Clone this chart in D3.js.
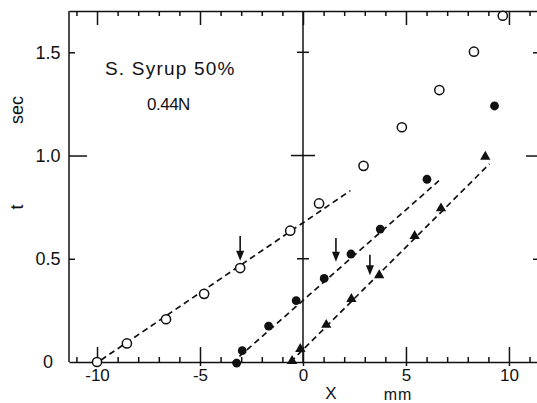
<!DOCTYPE html>
<html>
<head>
<meta charset="utf-8">
<script src="https://cdn.jsdelivr.net/npm/d3@7"></script>
<style>
  body { margin: 0; background: #fff; }
  svg { display: block; font-family: "Liberation Sans", Arial, sans-serif; }
  .tick text { font-size: 18px; fill: #111; }
</style>
</head>
<body>
<div id="chart"></div>
<script>
// open circles
const openX = [-10, -8.55, -6.65, -4.8, -3.05, -0.62, 0.78, 2.94, 4.8, 6.62, 8.3, 9.7]
const openT = [0, 0.09, 0.207, 0.33, 0.455, 0.636, 0.768, 0.95, 1.137, 1.317, 1.503, 1.677]
// filled circles
const fillX = [-3.22, -2.95, -1.67, -0.33, 1.03, 2.33, 3.75, 6.02, 9.3]
const fillT = [-0.005, 0.055, 0.174, 0.297, 0.405, 0.523, 0.644, 0.885, 1.24]
// triangles
const triX = [-0.53, -0.13, 1.13, 2.35, 3.7, 5.42, 6.7, 8.85]
const triT = [0.005, 0.063, 0.18, 0.305, 0.42, 0.61, 0.744, 0.994]

// dashed fit lines [x0, t0, x1, t1]
const fitOpen = [-9.8, 0.01, 2.3, 0.83]
const fitFill = [-3.45, -0.005, 6.6, 0.878]
const fitTri = [-0.6, 0.0, 9.06, 0.96]

// arrows
const arrowX = [-3.05, 1.6, 3.25]
const arrowTop = [0.61, 0.60, 0.52]
const arrowTip = [0.49, 0.485, 0.42]

const xMajor = [-10, -5, 0, 5, 10]
const xMinor = d3.range(-11, 12).filter(d => d % 5 != 0)
const yLabels = [0, 0.5, 1.0, 1.5]

const width = 537, height = 403
const margin = { top: 11, right: -1, bottom: 41, left: 69 }

const svg = d3.select("#chart").append("svg")
  .attr("width", width).attr("height", height)

const x = d3.scaleLinear().domain([-11.36, 11.41]).range([margin.left, width - margin.right])
const y = d3.scaleLinear().domain([0, 1.70]).range([height - margin.bottom, margin.top])

const ink = "#111"

function styleAxis(g) {
  g.selectAll("path,line").attr("stroke", ink).attr("stroke-width", 1.5)
}

// bottom
svg.append("g").attr("transform", `translate(0,${y(0)})`)
  .call(d3.axisBottom(x).tickValues(xMinor).tickSize(-5).tickSizeOuter(0).tickFormat(""))
  .call(styleAxis)
const bx = svg.append("g").attr("transform", `translate(0,${y(0)})`)
  .call(d3.axisBottom(x).tickValues(xMajor).tickSize(0).tickSizeOuter(0).tickPadding(7).tickFormat(d => d))
  .call(styleAxis)
bx.select(".domain").remove()
bx.selectAll(".tick line").attr("y1", 4).attr("y2", -15)
bx.selectAll(".tick text").attr("dy", "0.7em").style("font-size", "17px")

// top
svg.append("g").attr("transform", `translate(0,${y.range()[1]})`)
  .call(d3.axisTop(x).tickValues(xMinor).tickSize(-5).tickSizeOuter(0).tickFormat(""))
  .call(styleAxis)
svg.append("g").attr("transform", `translate(0,${y.range()[1]})`)
  .call(d3.axisTop(x).tickValues(xMajor).tickSize(-14).tickSizeOuter(0).tickFormat(""))
  .call(styleAxis).select(".domain").remove()

// left
const ly = svg.append("g").attr("transform", `translate(${x.range()[0]},0)`)
  .call(d3.axisLeft(y).tickValues(yLabels).tickSize(-6).tickSizeOuter(0)
    .tickFormat(d => d == 0 ? "0" : d3.format(".1f")(d)))
  .call(styleAxis)
ly.select(".domain").attr("d", `M0,${y.range()[0]}V${y.range()[1]}`)
ly.selectAll(".tick line").attr("x2", d => d == 1 ? 18 : d == 0 ? 0 : 6)
ly.selectAll(".tick text").attr("x", -21).attr("text-anchor", "middle")

// right
const ry = svg.append("g").attr("transform", `translate(${x.range()[1]},0)`)
  .call(d3.axisRight(y).tickValues([0.5, 1.0, 1.5]).tickSize(-6).tickSizeOuter(0).tickFormat(""))
  .call(styleAxis)
ry.selectAll(".tick line").attr("x2", d => d == 1 ? -12 : -5)

// zero line with crosses
svg.append("line").attr("x1", x(0)).attr("x2", x(0))
  .attr("y1", y.range()[1]).attr("y2", y(0))
  .attr("stroke", ink).attr("stroke-width", 1.5)
svg.append("g").selectAll("line").data([0.5, 1.0, 1.5]).join("line")
  .attr("x1", d => x(0) - (d == 1 ? 12 : 6)).attr("x2", d => x(0) + (d == 1 ? 12 : 6))
  .attr("y1", d => y(d)).attr("y2", d => y(d))
  .attr("stroke", ink).attr("stroke-width", 1.5)

// fit lines
svg.append("g").selectAll("line").data([fitOpen, fitFill, fitTri]).join("line")
  .attr("x1", d => x(d[0])).attr("y1", d => y(d[1]))
  .attr("x2", d => x(d[2])).attr("y2", d => y(d[3]))
  .attr("stroke", ink).attr("stroke-width", 1.7)
  .attr("stroke-dasharray", "6,4")

// markers
svg.append("g").selectAll("circle").data(openX).join("circle")
  .attr("cx", d => x(d)).attr("cy", (d, i) => y(openT[i])).attr("r", 4.6)
  .attr("fill", "#fff").attr("stroke", ink).attr("stroke-width", 1.5)
svg.append("g").selectAll("circle").data(fillX).join("circle")
  .attr("cx", d => x(d)).attr("cy", (d, i) => y(fillT[i])).attr("r", 4.4)
  .attr("fill", ink)
svg.append("g").selectAll("path").data(triX).join("path")
  .attr("transform", (d, i) => `translate(${x(d)},${y(triT[i])})`)
  .attr("d", d3.symbol(d3.symbolTriangle, 46))
  .attr("fill", ink)

// arrows
const ag = svg.append("g")
arrowX.forEach((a, i) => {
  const ax = x(a), y0 = y(arrowTop[i]), y1 = y(arrowTip[i])
  ag.append("line").attr("x1", ax).attr("x2", ax).attr("y1", y0).attr("y2", y1 - 6)
    .attr("stroke", ink).attr("stroke-width", 1.6)
  ag.append("path").attr("d", `M${ax - 4},${y1 - 10}L${ax + 4},${y1 - 10}L${ax},${y1}Z`).attr("fill", ink)
})

// labels
svg.append("text").attr("x", 105).attr("y", 75).attr("font-size", 19).attr("letter-spacing", 1.2)
  .attr("fill", ink).text("S. Syrup 50%")
svg.append("text").attr("x", 147).attr("y", 110).attr("font-size", 17)
  .attr("fill", ink).attr("letter-spacing", -0.5).text("0.44N")
svg.append("text").attr("transform", "translate(23,110) rotate(-90)").attr("text-anchor", "middle")
  .attr("font-size", 18).attr("fill", ink).text("sec")
svg.append("text").attr("transform", "translate(23,207) rotate(-90)").attr("text-anchor", "middle")
  .attr("font-size", 18).attr("fill", ink).text("t")
svg.append("text").attr("x", 331).attr("y", 399).attr("text-anchor", "middle")
  .attr("font-size", 17).attr("fill", ink).text("X")
svg.append("text").attr("x", 398).attr("y", 400).attr("text-anchor", "middle")
  .attr("font-size", 16).attr("letter-spacing", 1).attr("fill", ink).text("mm")
</script>
</body>
</html>
